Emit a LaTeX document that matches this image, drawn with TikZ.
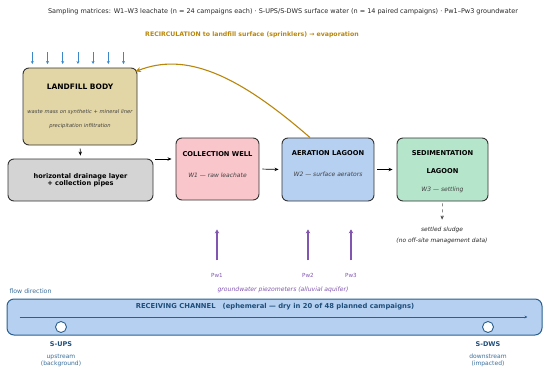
\documentclass[tikz,border=0pt]{standalone}
\usepackage{fontspec}
\setmainfont{DejaVu Sans}
\usetikzlibrary{arrows.meta,positioning}

\definecolor{landfillfill}{HTML}{E3D6A6}
\definecolor{drainfill}{HTML}{D4D4D4}
\definecolor{wellfill}{HTML}{F8C6CB}
\definecolor{aerfill}{HTML}{B6D0F1}
\definecolor{sedfill}{HTML}{B5E5CB}
\definecolor{recirc}{HTML}{B8860B}
\definecolor{rain}{HTML}{3C87C8}
\definecolor{piezo}{HTML}{8256B0}
\definecolor{chanline}{HTML}{2A5F8F}
\definecolor{chantext}{HTML}{1F4E79}
\definecolor{chansoft}{HTML}{3A6E9A}

\begin{document}
\begin{tikzpicture}[x=1pt,y=-1pt,
    box/.style={draw=black!80, line width=0.9pt, rounded corners=6pt, inner sep=0pt},
    flow/.style={-{Stealth[length=4pt,width=3.4pt]}, line width=0.7pt},
    title/.style={font=\fontsize{6.7}{8}\selectfont\bfseries},
    note/.style={font=\fontsize{6}{7}\selectfont\itshape, text=black!75},
    small/.style={font=\fontsize{6}{7}\selectfont}]
    \useasboundingbox (0,0) rectangle (550,373);

    % header
    \node[font=\fontsize{6.5}{7.5}\selectfont, text=black!85] (head) at (283,12)
        {Sampling matrices: W1–W3 leachate (n = 24 campaigns each) · S-UPS/S-DWS surface water (n = 14 paired campaigns) · Pw1–Pw3 groundwater};
    \node[font=\fontsize{6.2}{7}\selectfont\bfseries, text=recirc] (rectext) at (252,35)
        {RECIRCULATION to landfill surface (sprinklers) → evaporation};

    % boxes
    \node[box, fill=landfillfill, minimum width=114pt, minimum height=77pt] (lf) at (80,106.5) {};
    \node[box, fill=drainfill, minimum width=145pt, minimum height=42pt, align=center,
          font=\fontsize{6.6}{7.5}\selectfont\bfseries] (drain) at (80.5,180)
        {horizontal drainage layer\\+ collection pipes};
    \node[box, fill=wellfill, minimum width=83pt, minimum height=62pt] (well) at (217.5,169) {};
    \node[box, fill=aerfill, minimum width=92pt, minimum height=63pt] (aer) at (328,169.5) {};
    \node[box, fill=sedfill, minimum width=91pt, minimum height=63pt] (sed) at (442.5,169.5) {};

    % box texts
    \node[font=\fontsize{7.5}{8.5}\selectfont\bfseries] (lftitle) at (80,87) {LANDFILL BODY};
    \node[note, font=\fontsize{5.2}{6}\selectfont\itshape] (lfliner) at (80,112) {waste mass on synthetic + mineral liner};
    \node[note, font=\fontsize{5.2}{6}\selectfont\itshape] (lfrain) at (80,126) {precipitation infiltration};
    \node[title] (welltitle) at (217.5,154) {COLLECTION WELL};
    \node[note] (wellnote) at (217.5,175) {W1 — raw leachate};
    \node[title] (aertitle) at (328,153) {AERATION LAGOON};
    \node[note] (aernote) at (328,174) {W2 — surface aerators};
    \node[title] (sedtitle) at (442.5,153) {SEDIMENTATION};
    \node[title] (sedtitleb) at (442.5,171) {LAGOON};
    \node[note] (sednote) at (442.5,190) {W3 — settling};

    % rain on the landfill
    \foreach \i in {0,...,6}
        \draw[-{Stealth[length=3pt,width=3pt]}, rain, line width=0.6pt] (32.3+15.2*\i,52) -- (32.3+15.2*\i,64);

    % leachate line
    \draw[flow, shorten <=3pt, shorten >=3pt] (lf.south) -- (drain.north);
    \coordinate (dout) at ([yshift=21pt]drain.east);
    \draw[flow, shorten <=2pt, shorten >=4pt] (dout) -- (dout -| well.west);
    \draw[flow, shorten <=3pt, shorten >=3pt] (well.east) -- (aer.west);
    \draw[flow, shorten <=3pt, shorten >=4pt] (aer.east) -- (sed.west);

    % recirculation
    \draw[recirc, line width=1.1pt, -{Stealth[length=5.5pt,width=5pt]}]
        ([xshift=-18pt]aer.north) .. controls (236.7,73.7) and (185.3,52) .. ([xshift=-2pt,yshift=-4pt]lf.north east);

    % sludge
    \node[note, text=black!85, font=\fontsize{5.9}{11}\selectfont\itshape, align=center] (sludge) at (442,235.5)
        {settled sludge\\(no off-site management data)};
    \draw[flow, dashed, line width=0.5pt, black!70, shorten <=2pt, shorten >=4pt] (sed.south) -- (sludge.north);

    % piezometers
    \foreach \n/\x in {1/217,2/308,3/351} {
        \node[small, font=\fontsize{5.6}{7}\selectfont, text=piezo] (pw\n) at (\x,275) {Pw\n};
        \draw[piezo, line width=1.3pt, -{Stealth[length=4pt,width=4.5pt]}] ([yshift=9pt]pw\n.north) -- ++(0,-31);
    }
    \node[font=\fontsize{6.1}{7}\selectfont\itshape, text=piezo] (gw) at (283,290) {groundwater piezometers (alluvial aquifer)};

    % receiving channel
    \node[small, font=\fontsize{6.2}{7}\selectfont, text=chansoft, anchor=west] (flowdir) at (6,291) {flow direction};
    \node[draw=chanline, fill=aerfill, line width=1pt, rounded corners=7pt,
          minimum width=535pt, minimum height=36pt] (ch) at (274.5,317) {};
    \node[font=\fontsize{6.8}{8}\selectfont\bfseries, text=chantext] (chtext) at (275,307)
        {RECEIVING CHANNEL\ \ \ (ephemeral — dry in 20 of 48 planned campaigns)};
    \draw[chanline, line width=0.7pt, -{Stealth[length=3pt,width=2.8pt]}] ([xshift=13pt]ch.west) -- ([xshift=-15pt]ch.east);
    \foreach \s/\x in {ups/61,dws/488} {
        \node[circle, draw=chanline, fill=white, line width=0.9pt, minimum size=11pt, inner sep=0pt] (\s) at (\x,327) {};
    }
    \node[font=\fontsize{6.5}{7.5}\selectfont\bfseries, text=chantext] (upsname) at (61,344) {S-UPS};
    \node[small, text=chansoft, align=center, font=\fontsize{6}{6.8}\selectfont] (upsnote) at (61,360.5) {upstream\\(background)};
    \node[font=\fontsize{6.5}{7.5}\selectfont\bfseries, text=chantext] (dwsname) at (488,344) {S-DWS};
    \node[small, text=chansoft, align=center, font=\fontsize{6}{6.8}\selectfont] (dwsnote) at (488,360.5) {downstream\\(impacted)};
\end{tikzpicture}
\end{document}
